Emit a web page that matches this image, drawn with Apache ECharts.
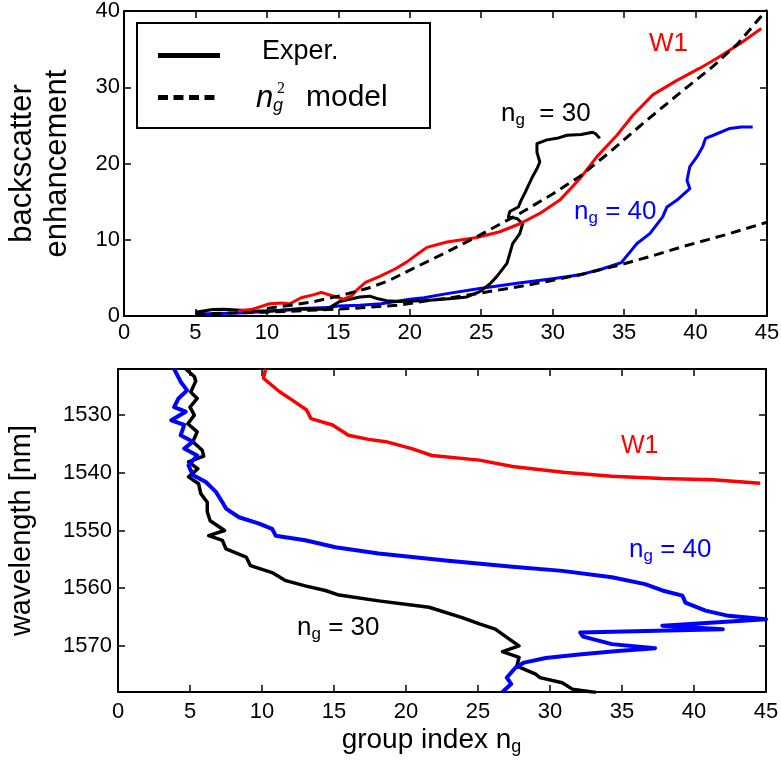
<!DOCTYPE html>
<html>
<head>
<meta charset="utf-8">
<script src="https://cdn.jsdelivr.net/npm/echarts@6/dist/echarts.min.js"></script>
<style>
  html, body { margin: 0; padding: 0; background: #fff; }
  #chart { width: 781px; height: 765px; }
</style>
</head>
<body>
<div id="chart"></div>
<script>
const FONT = '"Liberation Sans", Arial, Helvetica, sans-serif';

// Axis extents and tick values
const groupIndexRange = [0, 45];
const groupIndexStep = 5;
const backscatterRange = [0, 40];
const backscatterStep = 10;
const wavelengthRange = [1522, 1578];
const wavelengthTicks = [1530, 1540, 1550, 1560, 1570];

// Upper panel: backscatter enhancement vs. group index  [n_g, enhancement]
const w1Backscatter = [
  [8.0, 0.65], [9.0, 0.9], [10.2, 1.6], [11.0, 1.7], [11.6, 1.6], [12.4, 2.4],
  [13.3, 2.8], [13.8, 3.1], [14.4, 2.75], [15.35, 2.2], [15.9, 2.6], [16.4, 3.6],
  [16.9, 4.4], [17.9, 5.2], [19.0, 6.2], [19.8, 7.1], [20.6, 8.2], [21.2, 9.0],
  [22.6, 9.7], [24.7, 10.3], [26.3, 11.05], [27.7, 12.1], [29.1, 13.45], [30.5, 15.2],
  [31.9, 18.0], [33.1, 20.9], [34.5, 23.7], [35.6, 26.3], [37.0, 29.0], [38.7, 30.9],
  [40.3, 32.5], [41.5, 33.8], [43.1, 35.7], [44.6, 37.7]
];
const w1Model = [
  [10.0, 1.0], [12.0, 1.5], [13.3, 1.9], [15.0, 2.6], [17.0, 3.6], [18.5, 4.6],
  [20.2, 6.2], [22.5, 8.3], [24.9, 10.6], [27.7, 13.45], [30.0, 16.0], [31.9, 18.3],
  [34.0, 21.5], [36.6, 25.7], [39.0, 29.4], [41.2, 32.7], [43.0, 35.8], [45.0, 40.2]
];
const ng30Backscatter = [
  [5.0, 0.5], [6.2, 0.85], [7.0, 0.9], [7.9, 0.8], [9.0, 0.7], [10.2, 0.65],
  [11.5, 0.8], [12.3, 0.9], [14.2, 0.9], [15.1, 1.9], [16.5, 2.5], [17.2, 2.6],
  [17.7, 2.3], [18.4, 2.0], [19.3, 1.9], [20.7, 2.0], [21.6, 2.1], [23.0, 2.3],
  [24.0, 2.5], [24.9, 3.2], [25.6, 4.2], [26.1, 5.2], [26.8, 6.9], [27.0, 8.2],
  [27.2, 9.5], [27.7, 10.8], [27.9, 12.1], [27.5, 12.8], [26.9, 13.0], [27.0, 13.7],
  [27.6, 14.3], [27.8, 15.2], [28.1, 16.3], [28.6, 18.3], [28.9, 19.3], [29.1, 20.2],
  [28.9, 21.5], [28.9, 22.6], [29.6, 23.1], [30.3, 23.3], [31.0, 23.7], [32.0, 23.8],
  [32.8, 24.1], [33.0, 23.9], [33.3, 23.3]
];
const ng40Backscatter = [
  [5.0, 0.3], [6.0, 0.3], [8.0, 0.4], [10.0, 0.6], [12.3, 1.0], [14.3, 1.1],
  [15.0, 1.3], [16.5, 1.4], [18.0, 1.6], [20.0, 2.2], [21.0, 2.4], [22.5, 2.9],
  [24.9, 3.6], [27.5, 4.3], [30.0, 4.9], [31.9, 5.4], [33.5, 6.2], [34.8, 7.0],
  [35.9, 9.5], [36.8, 10.8], [37.7, 13.0], [38.0, 14.3], [38.7, 15.2], [39.6, 16.7],
  [39.4, 17.8], [39.6, 19.6], [40.1, 20.9], [40.5, 22.2], [40.7, 23.3], [41.5, 23.9],
  [42.4, 24.6], [43.2, 24.8], [44.0, 24.8]
];
const slowModel = [
  [5.0, 0.25], [7.6, 0.4], [10.0, 0.5], [11.4, 0.6], [13.0, 0.75], [16.0, 1.0],
  [17.9, 1.25], [19.3, 1.45], [21.6, 2.1], [22.5, 2.3], [24.9, 3.0], [27.5, 3.8],
  [29.8, 4.6], [31.9, 5.4], [34.7, 6.7], [37.0, 7.9], [39.1, 9.1], [42.0, 10.6],
  [45.0, 12.3]
];

// Lower panel: dispersion, group index vs. wavelength  [n_g, wavelength nm]
const w1Dispersion = [
  [10.25, 1522], [10.1, 1523.6], [11.2, 1525.9], [12.1, 1527.4], [13.1, 1529.1],
  [13.4, 1530.6], [14.9, 1531.7], [16.0, 1533.5], [17.4, 1534.2], [18.6, 1534.6],
  [20.4, 1535.8], [21.8, 1537.0], [25.1, 1537.8], [27.4, 1538.9], [30.9, 1539.9],
  [34.3, 1540.6], [37.8, 1541.0], [41.3, 1541.2], [44.6, 1541.8]
];
const ng40Dispersion = [
  [3.9, 1522], [4.35, 1524.2], [4.8, 1525.7], [4.2, 1527.1], [3.9, 1528.6],
  [4.7, 1529.4], [3.7, 1530.9], [4.6, 1531.7], [4.35, 1533.5], [5.2, 1534.6],
  [4.6, 1535.8], [5.5, 1537.0], [4.9, 1538.7], [5.2, 1540.4], [6.1, 1541.6],
  [6.8, 1543.3], [7.25, 1545.1], [7.5, 1546.2], [8.4, 1547.7], [9.8, 1548.8],
  [10.7, 1549.7], [10.95, 1550.9], [13.0, 1551.7], [15.1, 1552.9], [18.1, 1554.0],
  [22.75, 1555.2], [27.4, 1556.3], [30.85, 1557.0], [34.3, 1558.1], [36.6, 1559.3],
  [37.8, 1560.4], [39.2, 1561.3], [39.4, 1562.5], [40.8, 1563.9], [42.4, 1564.8],
  [45.0, 1565.4], [37.8, 1566.5], [42.0, 1567.1], [32.1, 1567.7], [32.3, 1568.4],
  [34.3, 1569.7], [37.3, 1570.4], [34.7, 1570.9], [32.0, 1571.5], [29.7, 1572.1],
  [28.2, 1572.9], [27.6, 1573.8], [27.0, 1575.5], [27.3, 1576.6], [26.7, 1578]
];
const ng30Dispersion = [
  [4.7, 1522], [5.3, 1523.3], [5.4, 1524.1], [5.05, 1526], [5.5, 1527.1],
  [5.0, 1528.6], [5.3, 1530.0], [4.85, 1531.5], [5.5, 1532.9], [5.2, 1534.6],
  [5.85, 1536.1], [5.95, 1537.1], [4.9, 1538.1], [5.55, 1539.3], [4.9, 1540.7],
  [5.6, 1541.9], [5.75, 1543.6], [6.2, 1545.1], [6.2, 1546.8], [6.4, 1548.3],
  [7.4, 1550.0], [6.3, 1550.9], [7.25, 1551.7], [7.5, 1553.2], [8.9, 1554.6],
  [9.2, 1556.1], [10.7, 1557.3], [11.65, 1558.7], [13.0, 1559.6], [14.4, 1560.4],
  [15.35, 1561.2], [18.1, 1562.2], [21.6, 1563.3], [23.9, 1565.1], [25.1, 1566.2],
  [26.2, 1567.1], [27.15, 1568.8], [27.85, 1570.0], [26.7, 1571.0], [27.85, 1572.0],
  [27.7, 1573.5], [29.0, 1574.9], [29.3, 1575.5], [30.85, 1576.4], [31.55, 1577.5],
  [33.2, 1578.1]
];

const RED = '#ff0000', BLUE = '#0000ff', BLACK = '#000000';
const plainNumber = v => String(v);

function frameAxis(extra) {
  return Object.assign({
    type: 'value',
    axisLine: { show: true, onZero: false, lineStyle: { color: BLACK, width: 2 } },
    axisTick: { show: true, inside: true, length: 7, lineStyle: { color: BLACK, width: 1.5 } },
    splitLine: { show: false },
    axisLabel: { show: true, color: BLACK, fontFamily: FONT, fontSize: 22, formatter: plainNumber }
  }, extra);
}
function noLabels(axis) {
  axis.axisLabel = { show: false };
  return axis;
}

function curve(data, xi, color, width, dashed, z) {
  return {
    type: 'line', data: data, xAxisIndex: xi, yAxisIndex: xi,
    showSymbol: false, symbol: 'none', clip: true, z: z || 2,
    lineStyle: { color: color, width: width, type: dashed ? [10, 6] : 'solid', cap: 'butt', join: 'round' },
    emphasis: { disabled: true }
  };
}

// Text with a subscript, e.g. n_g = 30
function subText(x, y, color, tail, size) {
  return {
    type: 'text', x: x, y: y, z: 100,
    style: {
      text: '{n|n}{g|g}{t|' + tail + '}',
      align: 'left', verticalAlign: 'middle',
      textAlign: 'left', textVerticalAlign: 'middle',
      fill: color, fontFamily: FONT, fontSize: size,
      rich: {
        n: { fontSize: size, fontFamily: FONT, fill: color },
        g: { fontSize: 17, fontFamily: FONT, fill: color, padding: [13, 0, 0, 0] },
        t: { fontSize: size, fontFamily: FONT, fill: color }
      }
    }
  };
}
function plainText(x, y, color, text, size, extra) {
  return {
    type: 'text', x: x, y: y, z: 100,
    style: Object.assign({
      text: text, align: 'left', verticalAlign: 'middle',
      textAlign: 'left', textVerticalAlign: 'middle',
      fill: color, fontFamily: FONT, fontSize: size
    }, extra || {})
  };
}

const chart = echarts.init(document.getElementById('chart'), null, { renderer: 'canvas' });

const option = {
  animation: false,
  backgroundColor: '#ffffff',
  grid: [
    { left: 124, top: 11, width: 643, height: 305, containLabel: false, outerBoundsMode: 'none' },
    { left: 118, top: 369, width: 648, height: 323, containLabel: false, outerBoundsMode: 'none' }
  ],
  xAxis: [
    frameAxis({ gridIndex: 0, position: 'bottom', min: groupIndexRange[0], max: groupIndexRange[1],
      interval: groupIndexStep,
      axisLabel: { color: BLACK, fontFamily: FONT, fontSize: 22, margin: 6, formatter: plainNumber } }),
    noLabels(frameAxis({ gridIndex: 0, position: 'top', min: groupIndexRange[0], max: groupIndexRange[1],
      interval: groupIndexStep })),
    frameAxis({ gridIndex: 1, position: 'bottom', min: groupIndexRange[0], max: groupIndexRange[1],
      interval: groupIndexStep,
      axisLabel: { color: BLACK, fontFamily: FONT, fontSize: 22, margin: 9, formatter: plainNumber },
      name: 'group index n{g|g}', nameLocation: 'middle', nameGap: 32,
      nameTextStyle: { color: BLACK, fontFamily: FONT, fontSize: 28, padding: [0, 21, 0, 0],
        rich: { g: { fontSize: 18, fontFamily: FONT, color: BLACK, padding: [14, 0, 0, 0] } } } }),
    noLabels(frameAxis({ gridIndex: 1, position: 'top', min: groupIndexRange[0], max: groupIndexRange[1],
      interval: groupIndexStep }))
  ],
  yAxis: [
    frameAxis({ gridIndex: 0, position: 'left', min: backscatterRange[0], max: backscatterRange[1],
      interval: backscatterStep,
      axisLabel: { color: BLACK, fontFamily: FONT, fontSize: 22, margin: 4, formatter: plainNumber },
      name: 'backscatter\nenhancement', nameLocation: 'middle', nameGap: 49,
      nameTextStyle: { color: BLACK, fontFamily: FONT, fontSize: 31, lineHeight: 35 } }),
    noLabels(frameAxis({ gridIndex: 0, position: 'right', min: backscatterRange[0], max: backscatterRange[1],
      interval: backscatterStep })),
    frameAxis({ gridIndex: 1, position: 'left', inverse: true, min: wavelengthRange[0], max: wavelengthRange[1],
      axisLabel: { color: BLACK, fontFamily: FONT, fontSize: 22, margin: 6, customValues: wavelengthTicks,
        formatter: plainNumber },
      axisTick: { show: true, inside: true, length: 7, customValues: wavelengthTicks,
        lineStyle: { color: BLACK, width: 1.5 } },
      name: 'wavelength [nm]', nameLocation: 'middle', nameGap: 82,
      nameTextStyle: { color: BLACK, fontFamily: FONT, fontSize: 29 } }),
    noLabels(frameAxis({ gridIndex: 1, position: 'right', inverse: true, min: wavelengthRange[0], max: wavelengthRange[1],
      axisTick: { show: true, inside: true, length: 7, customValues: wavelengthTicks,
        lineStyle: { color: BLACK, width: 1.5 } } }))
  ],
  series: [
    curve(ng40Backscatter, 0, BLUE, 3),
    curve(ng30Backscatter, 0, BLACK, 3),
    curve(w1Backscatter, 0, RED, 3),
    curve(slowModel, 0, BLACK, 3, true, 3),
    curve(w1Model, 0, BLACK, 3, true, 3),
    curve(w1Dispersion, 2, RED, 3.5),
    curve(ng30Dispersion, 2, BLACK, 3.5),
    curve(ng40Dispersion, 2, BLUE, 4)
  ],
  graphic: [
    // legend box
    { type: 'rect', z: 100, shape: { x: 137, y: 23, width: 293, height: 105 },
      style: { fill: '#ffffff', stroke: BLACK, lineWidth: 2 } },
    { type: 'line', z: 101, shape: { x1: 158, y1: 55.5, x2: 220, y2: 55.5 },
      style: { stroke: BLACK, lineWidth: 5 } },
    { type: 'line', z: 101, shape: { x1: 158, y1: 97.5, x2: 216, y2: 97.5 },
      style: { stroke: BLACK, lineWidth: 5, lineDash: [10, 5.5] } },
    plainText(262, 52, BLACK, 'Exper.', 27),
    plainText(256, 98, BLACK, 'n', 31, { fontStyle: 'italic' }),
    plainText(277, 89, BLACK, '2', 16, { fontFamily: '"Liberation Serif", "Times New Roman", serif' }),
    plainText(273, 106, BLACK, 'g', 18, { fontStyle: 'italic' }),
    plainText(306, 98, BLACK, 'model', 30),
    // curve labels, upper panel
    plainText(649, 44, RED, 'W1', 26),
    subText(501, 114, BLACK, '  = 30', 26),
    subText(574, 212, BLUE, ' = 40', 26),
    // curve labels, lower panel
    plainText(621, 446, RED, 'W1', 25),
    subText(629, 550, BLUE, ' = 40', 26),
    subText(297, 628, BLACK, ' = 30', 26)
  ]
};

chart.setOption(option);
</script>
</body>
</html>
